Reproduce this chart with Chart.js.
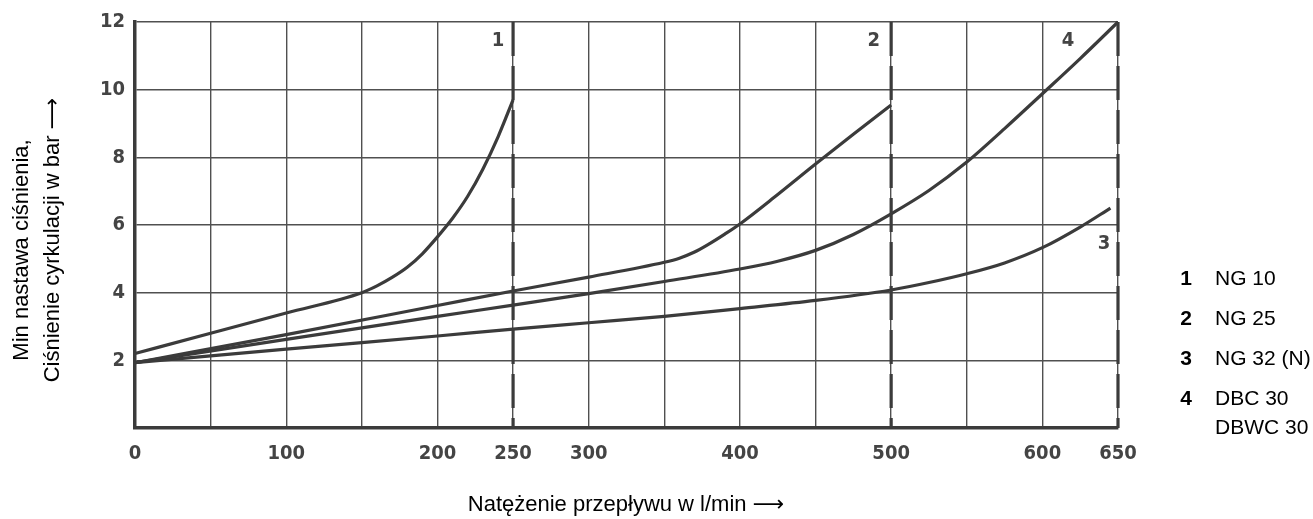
<!DOCTYPE html>
<html>
<head>
<meta charset="utf-8">
<script src="https://cdn.jsdelivr.net/npm/chart.js@4/dist/chart.umd.min.js"></script>
<style>
  html, body { margin: 0; padding: 0; background: #fff; }
  canvas { display: block; }
</style>
</head>
<body>
<canvas id="myChart" width="1313" height="519"></canvas>
<script>
// flow in l/min, pressure in bar
const ng10Flow = [0, 50, 100, 150, 160, 170, 180, 190, 200, 210, 220, 230, 240, 250];
const ng10Pressure = [2.2, 2.8, 3.4, 4.0, 4.2, 4.45, 4.75, 5.15, 5.65, 6.2, 6.85, 7.65, 8.6, 9.7];

const ng25Flow = [0, 100, 200, 250, 300, 350, 360, 370, 380, 390, 400, 425, 450, 475, 500];
const ng25Pressure = [1.93, 2.76, 3.62, 4.05, 4.46, 4.9, 5.02, 5.2, 5.45, 5.73, 6.03, 6.9, 7.8, 8.68, 9.55];

const ng32Flow = [0, 100, 200, 250, 300, 350, 400, 450, 500, 525, 550, 575, 600, 625, 645];
const ng32Pressure = [1.93, 2.33, 2.72, 2.92, 3.11, 3.3, 3.53, 3.77, 4.08, 4.3, 4.56, 4.88, 5.33, 5.94, 6.5];

const dbcFlow = [0, 100, 200, 250, 300, 350, 400, 425, 450, 475, 500, 525, 550, 575, 600, 625, 650];
const dbcPressure = [1.93, 2.62, 3.3, 3.63, 3.97, 4.33, 4.7, 4.93, 5.25, 5.72, 6.33, 7.02, 7.86, 8.85, 9.88, 10.92, 12];

const limitFlows = [250, 500, 650];

const xTickLabels = [0, 100, 200, 250, 300, 400, 500, 600, 650];
const yTickLabels = [2, 4, 6, 8, 10, 12];

const curveTags = ["1", "2", "4", "3"];
const curveTagFlow = [240, 488.5, 617, 640.7];
const curveTagPressure = [11.45, 11.45, 11.44, 5.44];

const legendNumbers = ["1", "2", "3", "4"];
const legendNames = [["NG 10"], ["NG 25"], ["NG 32 (N)"], ["DBC 30", "DBWC 30"]];

const xTitle = "Natężenie przepływu w l/min";
const yTitle = ["Min nastawa ciśnienia,", "Ciśnienie cyrkulacji w bar"];
const arrow = "⟶";

const ink = "#3b3b3b";
const gridInk = "#505050";
const tickFamily = "'DejaVu Sans Condensed', 'DejaVu Sans', sans-serif";
const tickFont = { family: tickFamily, weight: "bold", size: 20 };
const titleFont = "22px 'Liberation Sans', Arial, sans-serif";
const arrowFont = "22px 'DejaVu Sans', sans-serif";

const toPoints = (xs, ys) => xs.map((x, i) => ({ x: x, y: ys[i] }));

const curve = (xs, ys) => ({
  data: toPoints(xs, ys),
  borderColor: ink,
  borderWidth: 3.2,
  pointRadius: 0,
  cubicInterpolationMode: "monotone",
  fill: false,
  clip: 6,
});

const limitLines = limitFlows.map((f) => ({
  data: [{ x: f, y: 12 }, { x: f, y: 0 }],
  borderColor: ink,
  borderWidth: 3.2,
  borderDash: [34, 10],
  pointRadius: 0,
  fill: false,
  clip: 6,
}));

// text followed by an arrow, centred on 0,0 of the current transform
function titleWithArrow(ctx, text) {
  ctx.font = titleFont;
  const w1 = ctx.measureText(text + " ").width;
  ctx.font = arrowFont;
  const w2 = ctx.measureText(arrow).width;
  let x = -(w1 + w2) / 2;
  ctx.textAlign = "left";
  ctx.font = titleFont;
  ctx.fillText(text + " ", x, 0);
  ctx.font = arrowFont;
  ctx.fillText(arrow, x + w1, 0);
}

const textPlugin = {
  id: "texts",
  afterDraw(chart) {
    const ctx = chart.ctx;
    const xs = chart.scales.x;
    const ys = chart.scales.y;
    ctx.save();

    // curve numbers
    ctx.fillStyle = "#444";
    ctx.font = "bold 20px " + tickFamily;
    ctx.textAlign = "center";
    ctx.textBaseline = "middle";
    curveTags.forEach((t, i) => {
      ctx.fillText(t, xs.getPixelForValue(curveTagFlow[i]), ys.getPixelForValue(curveTagPressure[i]));
    });

    // axis titles
    ctx.fillStyle = "#000";
    ctx.save();
    ctx.translate(626, 505);
    titleWithArrow(ctx, xTitle);
    ctx.restore();

    ctx.save();
    ctx.translate(22, 250);
    ctx.rotate(-Math.PI / 2);
    ctx.textAlign = "center";
    ctx.font = titleFont;
    ctx.fillText(yTitle[0], 0, 0);
    ctx.restore();

    ctx.save();
    ctx.translate(53, 240);
    ctx.rotate(-Math.PI / 2);
    titleWithArrow(ctx, yTitle[1]);
    ctx.restore();

    // legend
    let y = 279;
    legendNumbers.forEach((n, i) => {
      ctx.textAlign = "center";
      ctx.font = "bold 21px 'Liberation Sans', Arial, sans-serif";
      ctx.fillText(n, 1186, y);
      ctx.textAlign = "left";
      ctx.font = "21px 'Liberation Sans', Arial, sans-serif";
      legendNames[i].forEach((name, j) => {
        ctx.fillText(name, 1215, y + j * 29);
      });
      y += 40;
    });

    ctx.restore();
  },
};

const ctx = document.getElementById("myChart").getContext("2d");
new Chart(ctx, {
  type: "line",
  data: {
    datasets: [
      curve(ng10Flow, ng10Pressure),
      curve(ng25Flow, ng25Pressure),
      curve(ng32Flow, ng32Pressure),
      curve(dbcFlow, dbcPressure),
      ...limitLines,
    ],
  },
  options: {
    responsive: false,
    animation: false,
    devicePixelRatio: 1,
    layout: { padding: { left: 0, right: 195, top: 22, bottom: 0 } },
    plugins: {
      legend: { display: false },
      tooltip: { enabled: false },
    },
    scales: {
      x: {
        type: "linear",
        min: 0,
        max: 650,
        afterFit: (s) => { s.height = 91; },
        afterBuildTicks: (s) => {
          s.ticks = [];
          for (let v = 0; v <= 650; v += 50) s.ticks.push({ value: v });
        },
        ticks: {
          autoSkip: false,
          maxRotation: 0,
          padding: 14,
          color: "#444",
          font: tickFont,
          callback: (v) => (xTickLabels.includes(v) ? String(v) : ""),
        },
        grid: { color: gridInk, lineWidth: 1.4, drawTicks: false },
        border: { display: true, color: ink, width: 3.5 },
      },
      y: {
        type: "linear",
        min: 0,
        max: 12,
        afterFit: (s) => { s.width = 135; },
        ticks: {
          stepSize: 2,
          padding: 10,
          color: "#444",
          font: tickFont,
          callback: (v) => (yTickLabels.includes(v) ? String(v) : ""),
        },
        grid: { color: gridInk, lineWidth: 1.4, drawTicks: false },
        border: { display: true, color: ink, width: 3.5 },
      },
    },
  },
  plugins: [textPlugin],
});
</script>
</body>
</html>
